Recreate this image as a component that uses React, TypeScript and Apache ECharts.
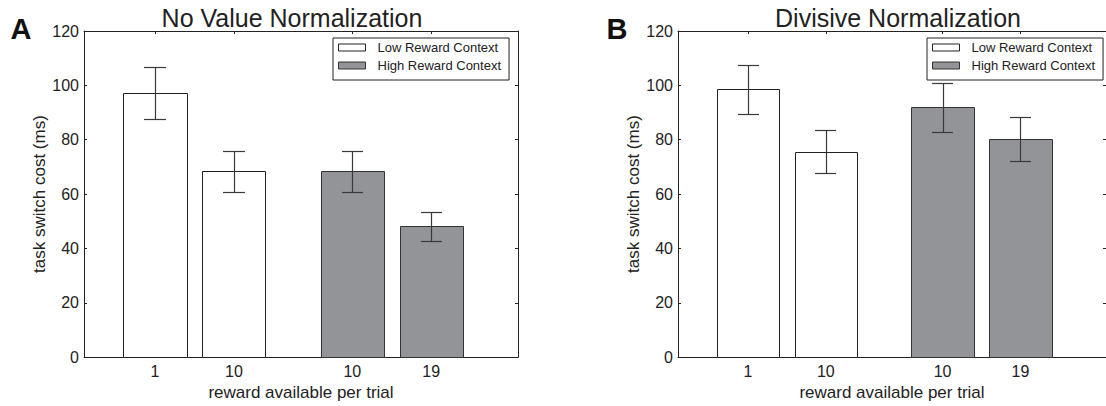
import React, { useEffect, useRef } from "react";
import * as echarts from "echarts";

// ---- data ----
const positions = [1, 2, 3.5, 4.5];
const tickLabels = ["1", "10", "10", "19"];
const lowPositions = [1, 2];
const highPositions = [3.5, 4.5];

const seriesNames = ["Low Reward Context", "High Reward Context"];
const panelTitles = ["No Value Normalization", "Divisive Normalization"];
const panelLetters = ["A", "B"];

const noNormLow = [97.1, 68.3];
const noNormLowErr = [9.5, 7.4];
const noNormHigh = [68.4, 48.1];
const noNormHighErr = [7.5, 5.2];

const divNormLow = [98.5, 75.6];
const divNormLowErr = [9.0, 7.9];
const divNormHigh = [91.9, 80.2];
const divNormHighErr = [9.0, 8.1];

const yTicks = [0, 20, 40, 60, 80, 100, 120];

// ---- styles ----
const FONT = "'Liberation Sans', Arial, Helvetica, sans-serif";
const INK = "#222";
const GRAY = "#939498";
const BAR_HALF = 0.4;
const CAP_HALF = 0.135;

const panels = [
  { low: noNormLow, lowErr: noNormLowErr, high: noNormHigh, highErr: noNormHighErr, left: 84, legendLeft: 333, titleX: 292, letterX: 21 },
  { low: divNormLow, lowErr: divNormLowErr, high: divNormHigh, highErr: divNormHighErr, left: 678, legendLeft: 927, titleX: 898, letterX: 617 },
];

function barRender(fill: string, stroke: string) {
  return (params: any, api: any) => {
    const x = api.value(0);
    const y = api.value(1);
    const tl = api.coord([x - BAR_HALF, y]);
    const br = api.coord([x + BAR_HALF, 0]);
    const x0 = Math.round(tl[0]) + 0.5;
    const y0 = Math.round(tl[1]) + 0.5;
    const x1 = Math.round(br[0]) + 0.5;
    const y1 = Math.round(br[1]) + 0.5;
    return {
      type: "rect",
      shape: { x: x0, y: y0, width: x1 - x0, height: y1 - y0 },
      style: { fill, stroke, lineWidth: 1 },
    };
  };
}

function errRender(params: any, api: any) {
  const x = api.value(0);
  const m = api.value(1);
  const e = api.value(2);
  const top = api.coord([x, m + e]);
  const bot = api.coord([x, m - e]);
  const cl = api.coord([x - CAP_HALF, m]);
  const cr = api.coord([x + CAP_HALF, m]);
  const cx = Math.round(top[0]) + 0.5;
  const ty = Math.round(top[1]) + 0.5;
  const by = Math.round(bot[1]) + 0.5;
  const lx = Math.round(cl[0]);
  const rx = Math.round(cr[0]);
  const style = { stroke: "#3a3a3a", lineWidth: 1.2 };
  return {
    type: "group",
    children: [
      { type: "line", shape: { x1: cx, y1: ty, x2: cx, y2: by }, style },
      { type: "line", shape: { x1: lx, y1: ty, x2: rx, y2: ty }, style },
      { type: "line", shape: { x1: lx, y1: by, x2: rx, y2: by }, style },
    ],
  };
}

function buildOption() {
  const grids: any[] = [];
  const xAxes: any[] = [];
  const yAxes: any[] = [];
  const series: any[] = [];
  const legends: any[] = [];
  const graphics: any[] = [];

  panels.forEach((p, gi) => {
    grids.push({ left: p.left, top: 31, width: 434, height: 331, show: false });

    const xBase = {
      gridIndex: gi,
      type: "value",
      min: 0.1,
      max: 5.6,
      splitLine: { show: false },
      axisLine: { show: true, onZero: false, lineStyle: { color: INK, width: 1 } },
      axisTick: { show: true, inside: true, length: 3, customValues: positions, lineStyle: { color: INK } },
    };
    xAxes.push({
      ...xBase,
      position: "bottom",
      axisLabel: {
        show: true,
        customValues: positions,
        formatter: (v: number) => {
          const i = positions.indexOf(v);
          return i >= 0 ? tickLabels[i] : "";
        },
        color: INK,
        fontSize: 16,
        fontFamily: FONT,
        margin: 6,
      },
      name: "reward available per trial",
      nameLocation: "middle",
      nameGap: 25,
      nameTextStyle: { color: INK, fontSize: 17, fontFamily: FONT },
    });
    xAxes.push({ ...xBase, position: "top", axisLabel: { show: false } });

    const yBase = {
      gridIndex: gi,
      type: "value",
      min: 0,
      max: 120,
      interval: 20,
      splitLine: { show: false },
      axisLine: { show: true, onZero: false, lineStyle: { color: INK, width: 1 } },
      axisTick: { show: true, inside: true, length: 3, lineStyle: { color: INK } },
    };
    yAxes.push({
      ...yBase,
      position: "left",
      axisLabel: {
        show: true,
        customValues: yTicks,
        color: INK,
        fontSize: 16,
        fontFamily: FONT,
        margin: 5,
      },
      name: "task switch cost (ms)",
      nameLocation: "middle",
      nameGap: 29,
      nameTextStyle: { color: INK, fontSize: 17, fontFamily: FONT },
    });
    yAxes.push({ ...yBase, position: "right", axisLabel: { show: false } });

    const xi = gi * 2;
    const yi = gi * 2;
    series.push({
      type: "custom",
      name: seriesNames[0],
      xAxisIndex: xi,
      yAxisIndex: yi,
      renderItem: barRender("#ffffff", INK),
      itemStyle: { color: "#ffffff", borderColor: INK },
      encode: { x: 0, y: 1 },
      data: lowPositions.map((x, i) => [x, p.low[i]]),
      z: 2,
    });
    series.push({
      type: "custom",
      name: seriesNames[1],
      xAxisIndex: xi,
      yAxisIndex: yi,
      renderItem: barRender(GRAY, "#333"),
      itemStyle: { color: GRAY, borderColor: "#333" },
      encode: { x: 0, y: 1 },
      data: highPositions.map((x, i) => [x, p.high[i]]),
      z: 2,
    });
    series.push({
      type: "custom",
      name: "error" + gi,
      xAxisIndex: xi,
      yAxisIndex: yi,
      renderItem: errRender,
      encode: { x: 0, y: 1 },
      data: [
        ...lowPositions.map((x, i) => [x, p.low[i], p.lowErr[i]]),
        ...highPositions.map((x, i) => [x, p.high[i], p.highErr[i]]),
      ],
      z: 3,
    });

    legends.push({
      left: p.legendLeft,
      top: 38,
      orient: "vertical",
      selectedMode: false,
      data: [
        { name: seriesNames[0], icon: "rect", itemStyle: { color: "#ffffff", borderColor: INK, borderWidth: 1 } },
        { name: seriesNames[1], icon: "rect", itemStyle: { color: GRAY, borderColor: "#333", borderWidth: 1 } },
      ],
      itemWidth: 27,
      itemHeight: 7,
      itemGap: 5,
      padding: [3, 8, 8, 5],
      borderColor: INK,
      borderWidth: 1,
      backgroundColor: "#ffffff",
      textStyle: { fontSize: 13, fontFamily: FONT, color: INK, padding: [0, 0, 0, 7] },
      z: 10,
    });

    graphics.push({
      type: "text",
      x: p.titleX,
      y: 18,
      style: { text: panelTitles[gi], font: `25px ${FONT}`, fill: INK, align: "center", verticalAlign: "middle" },
    });
    graphics.push({
      type: "text",
      x: p.letterX,
      y: 29,
      style: { text: panelLetters[gi], font: `bold 29px ${FONT}`, fill: "#111", align: "center", verticalAlign: "middle" },
    });
  });

  return {
    animation: false,
    backgroundColor: "#ffffff",
    grid: grids,
    xAxis: xAxes,
    yAxis: yAxes,
    series,
    legend: legends,
    graphic: graphics,
  };
}

export default function App() {
  const ref = useRef<HTMLDivElement>(null);
  useEffect(() => {
    if (!ref.current) return;
    const chart = echarts.init(ref.current, undefined, { renderer: "svg" });
    chart.setOption(buildOption() as any);
    return () => chart.dispose();
  }, []);
  return (
    <div
      ref={ref}
      style={{ position: "fixed", left: 0, top: 0, width: 1106, height: 406, background: "#fff" }}
    />
  );
}
